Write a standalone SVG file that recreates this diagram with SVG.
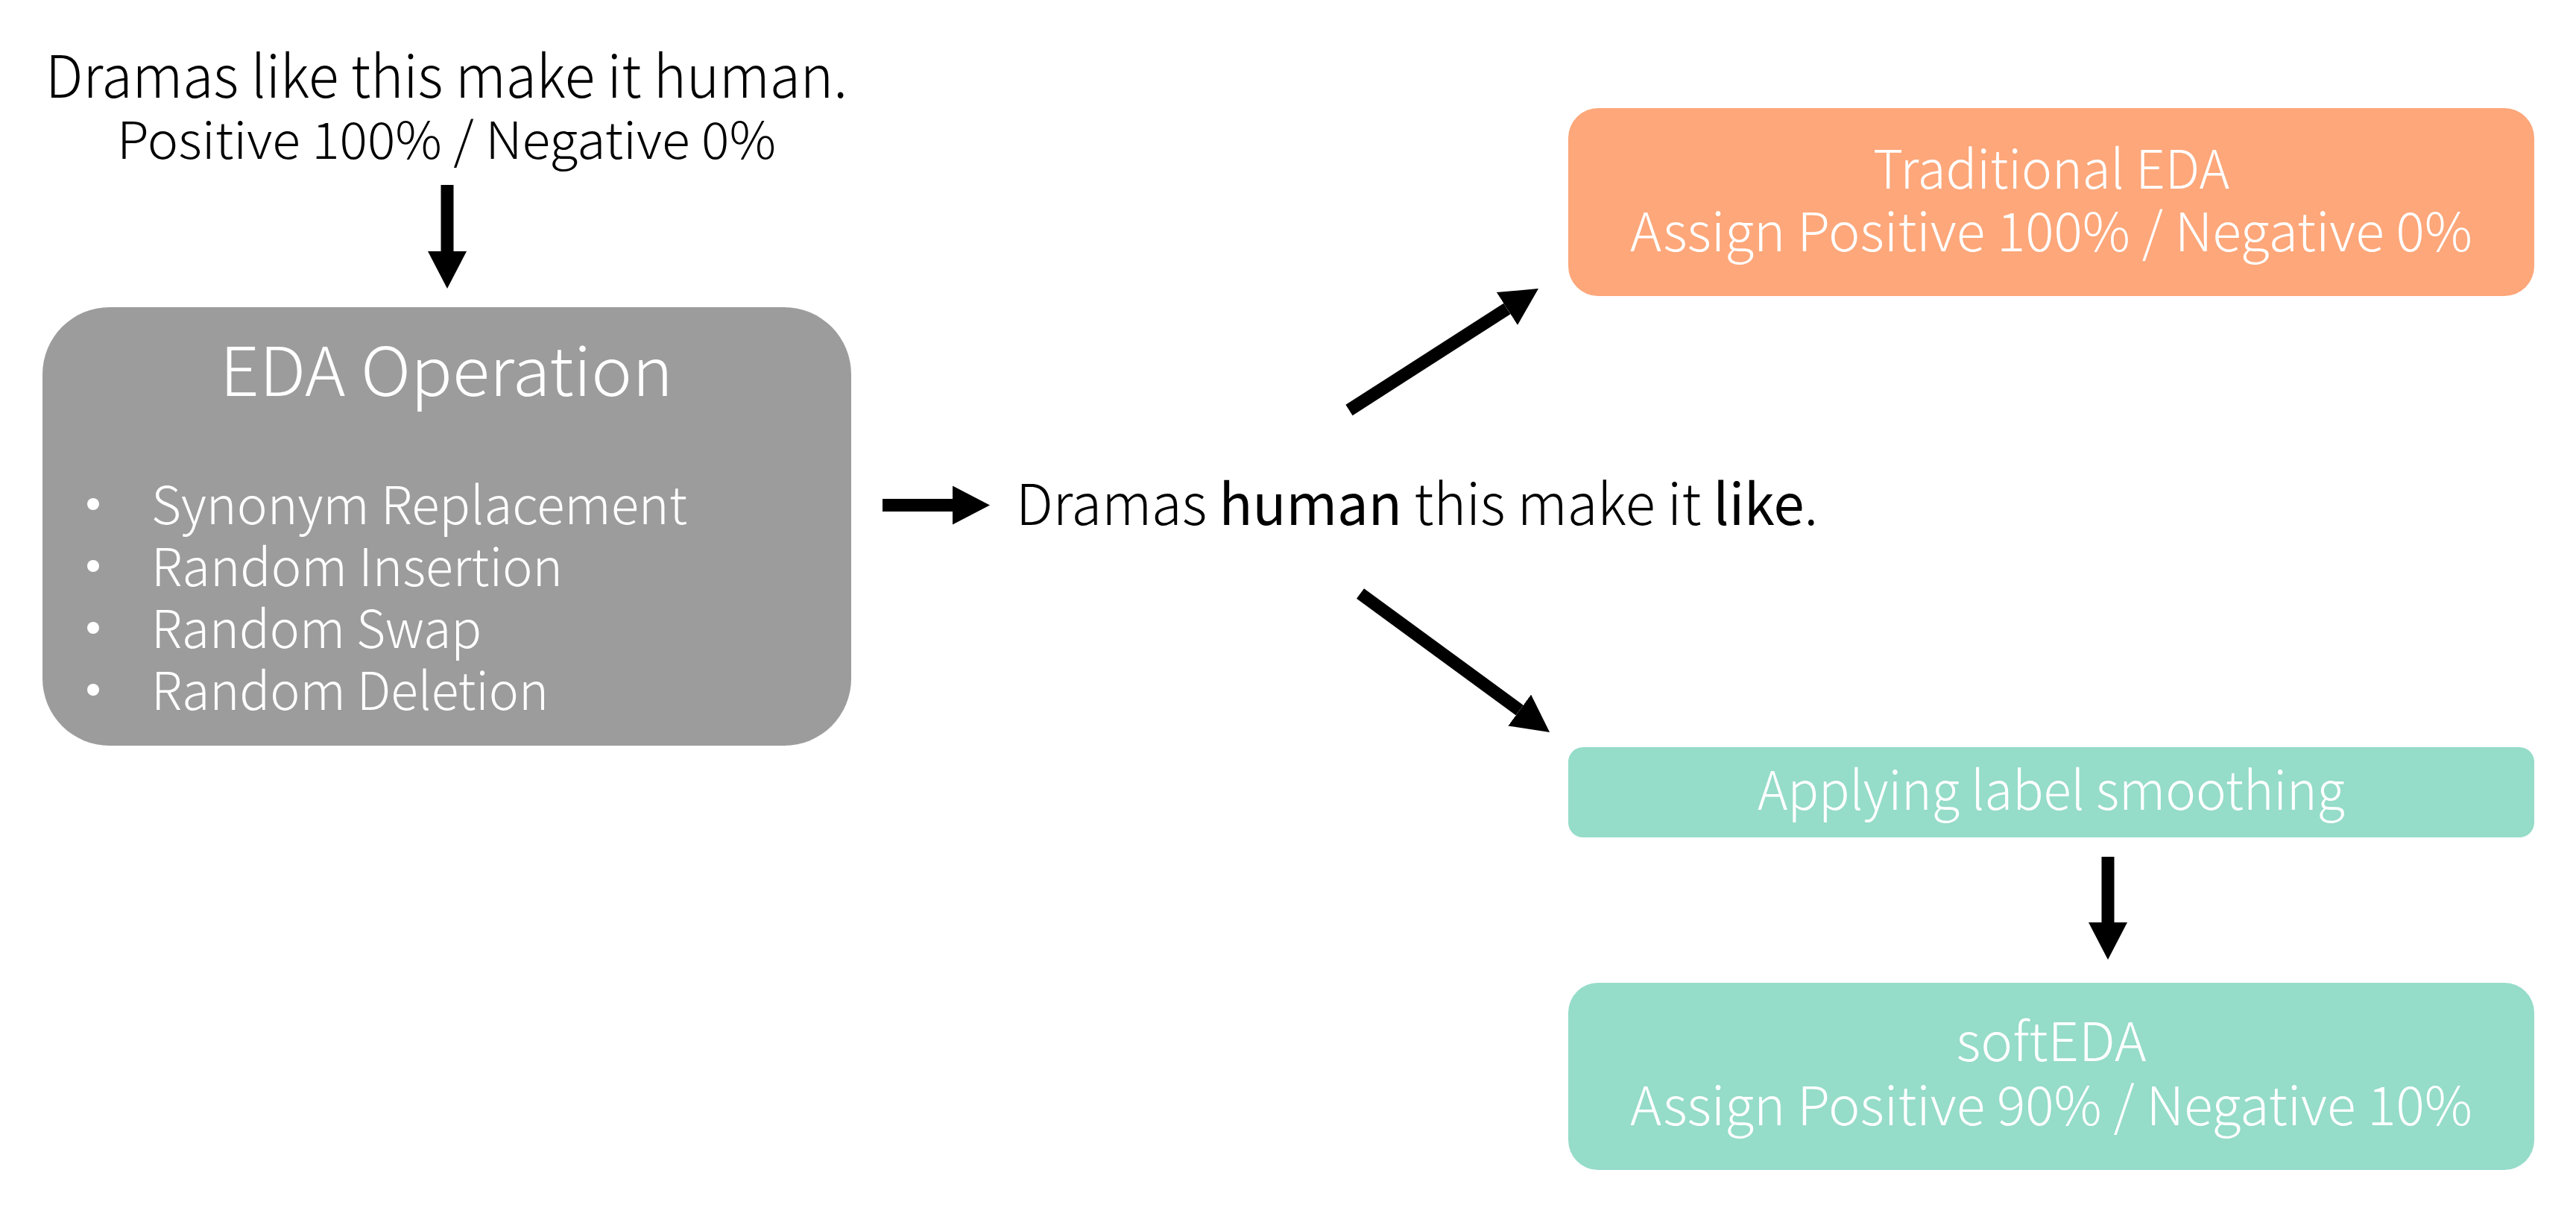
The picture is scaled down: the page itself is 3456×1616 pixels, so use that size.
<svg xmlns="http://www.w3.org/2000/svg" width="3456" height="1616" viewBox="0 0 3456 1616">
<defs>
<style>
.t{font-family:"Noto Sans CJK KR","Noto Sans","Liberation Sans",sans-serif;font-weight:300;}
.dk{fill:#000000;}
.wh{fill:#ffffff;}
.b{font-weight:400;}
.c{text-anchor:middle;}
.conn{stroke:#000000;stroke-width:17;fill:none;marker-end:url(#ah);}
</style>
<marker id="ah" markerUnits="userSpaceOnUse" viewBox="0 0 50 52" markerWidth="50" markerHeight="52" refX="0" refY="26" orient="auto">
<path d="M0,0 L50,26 L0,52 Z" fill="#000000"/>
</marker>
</defs>
<rect width="3456" height="1616" fill="#ffffff"/>

<g id="input">
<text class="t dk c" x="599" y="131" font-size="78" textLength="1076" lengthAdjust="spacingAndGlyphs">Dramas like this make it human.</text>
<text class="t dk c" x="599" y="213" font-size="68" textLength="884" lengthAdjust="spacingAndGlyphs">Positive 100% / Negative 0%</text>
</g>

<g id="eda-operation">
<rect x="57" y="412" width="1085" height="588" rx="90" ry="90" fill="#9c9c9c"/>
<text class="t wh c" x="599" y="531" font-size="90" textLength="608" lengthAdjust="spacingAndGlyphs">EDA Operation</text>
<circle cx="125" cy="676" r="8" fill="#ffffff"/>
<circle cx="125" cy="759" r="8" fill="#ffffff"/>
<circle cx="125" cy="842" r="8" fill="#ffffff"/>
<circle cx="125" cy="925" r="8" fill="#ffffff"/>
<text class="t wh" x="203" y="703" font-size="70" textLength="719" lengthAdjust="spacingAndGlyphs">Synonym Replacement</text>
<text class="t wh" x="203" y="786" font-size="70" textLength="552" lengthAdjust="spacingAndGlyphs">Random Insertion</text>
<text class="t wh" x="203" y="869" font-size="70" textLength="443" lengthAdjust="spacingAndGlyphs">Random Swap</text>
<text class="t wh" x="203" y="952" font-size="70" textLength="533" lengthAdjust="spacingAndGlyphs">Random Deletion</text>
</g>

<g id="augmented">
<text class="t dk" x="1363" y="704" font-size="76" textLength="1076" lengthAdjust="spacingAndGlyphs">Dramas <tspan class="b">human</tspan> this make it <tspan class="b">like</tspan>.</text>
</g>

<g id="traditional-eda">
<rect x="2104" y="145" width="1296" height="252" rx="40" ry="40" fill="#fda77a"/>
<text class="t wh c" x="2752" y="253" font-size="72" textLength="478" lengthAdjust="spacingAndGlyphs">Traditional EDA</text>
<text class="t wh c" x="2752" y="337" font-size="72" textLength="1130" lengthAdjust="spacingAndGlyphs">Assign Positive 100% / Negative 0%</text>
</g>

<g id="label-smoothing">
<rect x="2104" y="1002" width="1296" height="121" rx="20" ry="20" fill="#95dcc9"/>
<text class="t wh c" x="2752" y="1086" font-size="72" textLength="788" lengthAdjust="spacingAndGlyphs">Applying label smoothing</text>
</g>

<g id="soft-eda">
<rect x="2104" y="1318" width="1296" height="251" rx="40" ry="40" fill="#95dcc9"/>
<text class="t wh c" x="2752" y="1423" font-size="72" textLength="255" lengthAdjust="spacingAndGlyphs">softEDA</text>
<text class="t wh c" x="2752" y="1509" font-size="72" textLength="1130" lengthAdjust="spacingAndGlyphs">Assign Positive 90% / Negative 10%</text>
</g>

<g id="connectors">
<line class="conn" x1="600" y1="248" x2="600" y2="337"/>
<line class="conn" x1="1184" y1="677.5" x2="1278" y2="677.5"/>
<line class="conn" x1="1810" y1="550" x2="2021.9" y2="414"/>
<line class="conn" x1="1825" y1="796" x2="2038.7" y2="952.5"/>
<line class="conn" x1="2828" y1="1149" x2="2828" y2="1237"/>
</g>
</svg>
